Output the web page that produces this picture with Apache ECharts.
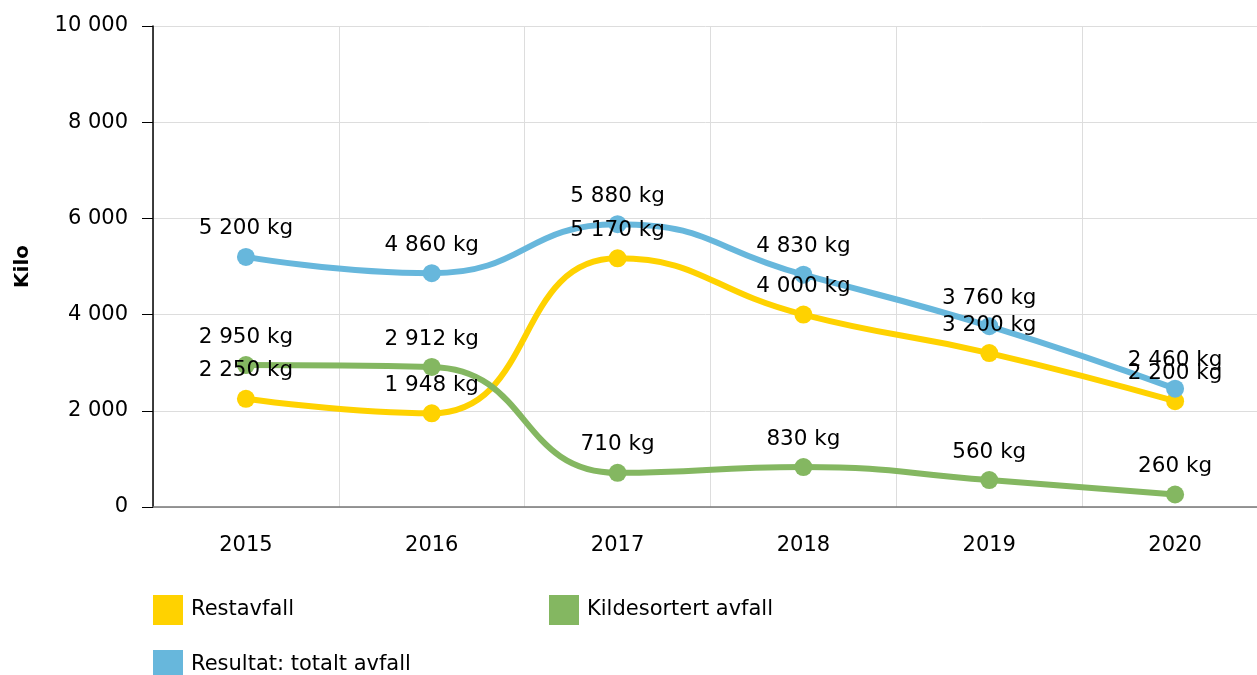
<!DOCTYPE html>
<html>
<head>
<meta charset="utf-8">
<script src="https://cdn.jsdelivr.net/npm/echarts@6/dist/echarts.min.js"></script>
<style>
  html, body { margin: 0; padding: 0; background: #fff; }
  #chart { width: 1257px; height: 675px; }
</style>
</head>
<body>
<div id="chart"></div>
<script>
// data
const years = ["2015", "2016", "2017", "2018", "2019", "2020"];
const restavfall = [2250, 1948, 5170, 4000, 3200, 2200];
const kildesortert = [2950, 2912, 710, 830, 560, 260];
const totalt = [5200, 4860, 5880, 4830, 3760, 2460];
const yTicks = [0, 2000, 4000, 6000, 8000, 10000];

const colors = { rest: "#FFD200", kilde: "#84B761", total: "#67B7DC" };
const font = "DejaVu Sans, Verdana, sans-serif";

// mellomrom som tusenskille
function fmt(v) {
  return String(v).replace(/\B(?=(\d{3})+(?!\d))/g, " ");
}

function makeSeries(name, data, color) {
  return {
    name: name,
    type: "line",
    data: data,
    smooth: 0.5,
    symbol: "circle",
    symbolSize: 18,
    itemStyle: { color: color },
    lineStyle: { color: color, width: 6 },
    label: {
      show: true,
      position: "top",
      distance: 8,
      color: "#000",
      fontFamily: font,
      fontSize: 21.5,
      formatter: (p) => fmt(p.value) + " kg"
    }
  };
}

function legendAt(name, left, top) {
  return {
    data: [name],
    left: left,
    top: top,
    icon: "rect",
    itemWidth: 30,
    itemHeight: 30,
    itemGap: 8,
    textStyle: { fontFamily: font, fontSize: 21, color: "#000", padding: [0, 0, 0, 3] },
    selectedMode: false
  };
}

const chart = echarts.init(document.getElementById("chart"));
chart.setOption({
  animation: false,
  grid: { left: 153, top: 26, right: -11, bottom: 168, outerBoundsMode: "none", containLabel: false },
  legend: [
    legendAt("Restavfall", 148, 590),
    legendAt("Kildesortert avfall", 544, 590),
    legendAt("Resultat: totalt avfall", 148, 645)
  ],
  xAxis: {
    type: "category",
    data: years,
    boundaryGap: true,
    axisLine: { lineStyle: { color: "#777", width: 1.5 } },
    axisTick: { alignWithLabel: true, length: 8, lineStyle: { color: "#aaa" } },
    axisLabel: { color: "#000", fontFamily: font, fontSize: 21, margin: 28 },
    splitLine: { show: true, lineStyle: { color: "#ddd" } }
  },
  yAxis: {
    type: "value",
    min: 0,
    max: 10000,
    interval: 2000,
    name: "Kilo",
    nameLocation: "middle",
    nameGap: 120,
    nameTextStyle: { fontFamily: font, fontSize: 20, fontWeight: "bold", color: "#000" },
    axisLine: { show: true, lineStyle: { color: "#000", width: 1.5 } },
    axisTick: { show: true, length: 11, lineStyle: { color: "#000" } },
    axisLabel: {
      color: "#000",
      fontFamily: font,
      fontSize: 21,
      margin: 25,
      formatter: (v) => (yTicks.includes(v) ? fmt(v) : "")
    },
    splitLine: { show: true, lineStyle: { color: "#ddd" } }
  },
  series: [
    makeSeries("Restavfall", restavfall, colors.rest),
    makeSeries("Kildesortert avfall", kildesortert, colors.kilde),
    makeSeries("Resultat: totalt avfall", totalt, colors.total)
  ]
});
</script>
</body>
</html>
